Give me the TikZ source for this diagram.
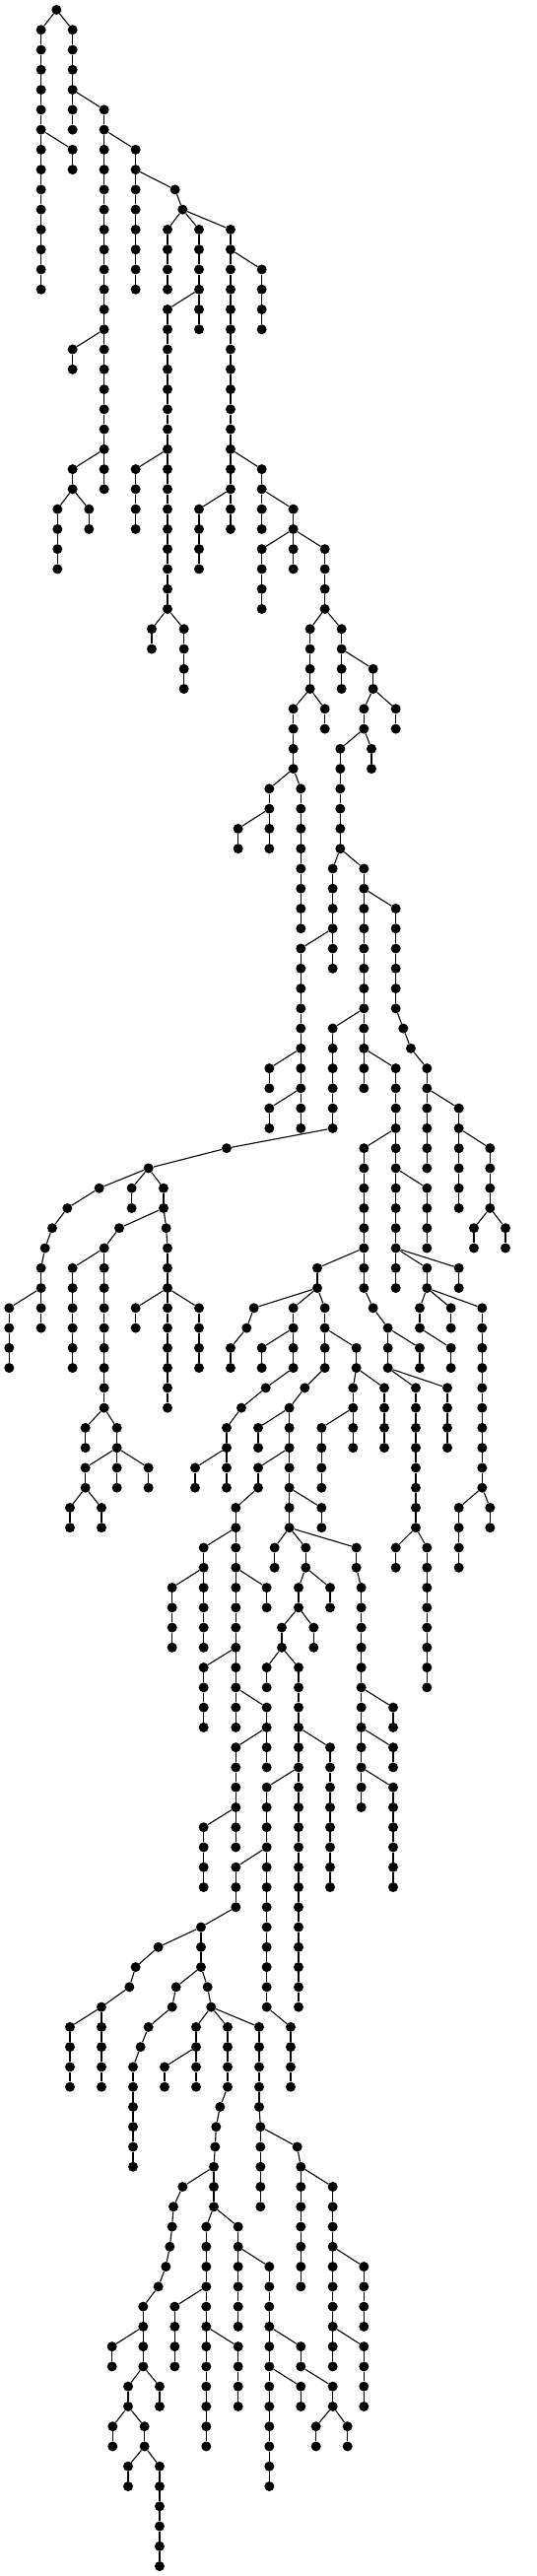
\documentclass[tikz,border=0pt]{standalone}
\tikzset{
  dot/.style={circle, fill=black, draw=none, inner sep=0pt, minimum size=10pt},
  edge/.style={line width=1.1pt, black}
}
\newcommand\chn[4]{%
  \foreach \q in {#3,...,#4}{%
    \node[dot] (#1-\q) at ({#2/3},{-10-20.266*\q}) {};
  }%
  \foreach \q in {#3,...,#4}{%
    \ifnum\q>#3\relax
      \pgfmathtruncatemacro\pq{\q-1}%
      \draw[edge] (#1-\pq) -- (#1-\q);
    \fi
  }%
}
\newcommand\lnk[2]{\draw[edge] (#1) -- (#2);}
\begin{document}
\begin{tikzpicture}[x=1pt,y=1pt]
\fill[white] (0,0) rectangle (544,-2614);
\useasboundingbox (0,0) rectangle (544,-2614);
\chn{R}{172}{0}{0}
\chn{A}{125}{1}{14} \lnk{R-0}{A-1}
\chn{B}{221}{1}{6} \lnk{R-0}{B-1}
\chn{C}{221}{7}{8} \lnk{A-6}{C-7}
\chn{D}{317}{5}{24} \lnk{B-4}{D-5}
\chn{E}{221}{17}{18} \lnk{D-16}{E-17}
\chn{F}{413}{7}{14} \lnk{D-6}{F-7}
\chn{G}{533}{9}{9} \lnk{F-8}{G-9}
\chn{H}{556}{10}{10} \lnk{G-9}{H-10}
\chn{I}{510}{11}{14} \lnk{H-10}{I-11}
\chn{J}{606}{11}{16} \lnk{H-10}{J-11}
\chn{N}{702}{11}{26} \lnk{H-10}{N-11}
\chn{K}{510}{15}{30} \lnk{J-14}{K-15}
\chn{L}{413}{23}{26} \lnk{K-22}{L-23}
\chn{Ma}{462}{31}{32} \lnk{K-30}{Ma-31}
\chn{Mb}{560}{31}{34} \lnk{K-30}{Mb-31}
\chn{O}{797}{13}{16} \lnk{N-12}{O-13}
\chn{P}{606}{25}{28} \lnk{N-24}{P-25}
\chn{Q}{797}{23}{26} \lnk{N-22}{Q-23}
\chn{S}{893}{25}{26} \lnk{Q-24}{S-25}
\chn{Ta}{797}{27}{30} \lnk{S-26}{Ta-27}
\chn{Tb}{893}{27}{28} \lnk{S-26}{Tb-27}
\chn{Tc}{989}{27}{30} \lnk{S-26}{Tc-27}
\chn{Ua}{944}{31}{34} \lnk{Tc-30}{Ua-31}
\chn{Ub}{1040}{31}{34} \lnk{Tc-30}{Ub-31}
\chn{V}{221}{23}{24} \lnk{D-22}{V-23}
\chn{Wa}{175}{25}{28} \lnk{V-24}{Wa-25}
\chn{Wb}{271}{25}{26} \lnk{V-24}{Wb-25}
\chn{Xa}{989}{35}{36} \lnk{Ua-34}{Xa-35}
\chn{Xb}{893}{35}{38} \lnk{Ua-34}{Xb-35}
\chn{Ya}{820}{39}{42} \lnk{Xb-38}{Ya-39}
\chn{Yb}{725}{41}{42} \lnk{Ya-40}{Yb-41}
\chn{Yc}{916}{39}{46} \lnk{Xb-38}{Yc-39}
\chn{Z}{1136}{33}{34} \lnk{Ub-32}{Z-33}
\chn{Za}{1205}{35}{36} \lnk{Z-34}{Za-35}
\chn{Zb}{1108}{35}{36} \lnk{Z-34}{Zb-35}
\chn{Zc}{1131}{37}{38} \lnk{Zb-36}{Zc-37}
\chn{Zd}{1036}{37}{42} \lnk{Zb-36}{Zd-37}
\chn{AA}{1013}{43}{48} \lnk{Zd-42}{AA-43}
\chn{AE}{1108}{43}{54} \lnk{Zd-42}{AE-43}
\chn{AB}{916}{47}{56} \lnk{AA-46}{AB-47}
\chn{AC}{820}{53}{54} \lnk{AB-52}{AC-53}
\chn{AD}{1013}{51}{56} \lnk{AE-50}{AD-51}
\chn{AF}{1205}{45}{50} \lnk{AE-44}{AF-45}
\chn{AG}{1228}{51}{51} \lnk{AF-50}{AG-51}
\chn{AH}{1251}{52}{52} \lnk{AG-51}{AH-52}
\chn{AI}{1300}{53}{58} \lnk{AH-52}{AI-53}
\chn{AJ}{1205}{53}{64} \lnk{AE-52}{AJ-53}
\chn{AK}{820}{55}{56} \lnk{AB-54}{AK-55}
\chn{BA}{690}{57}{57} \lnk{AD-56}{BA-57}
\chn{BB}{452}{58}{58} \lnk{BA-57}{BB-58}
\chn{BC}{302}{59}{59} \lnk{BB-58}{BC-59}
\chn{BD}{401}{59}{60} \lnk{BB-58}{BD-59}
\chn{BE}{498}{59}{60} \lnk{BB-58}{BE-59}
\chn{BF}{205}{60}{60} \lnk{BC-59}{BF-60}
\chn{BG}{159}{61}{61} \lnk{BF-60}{BG-61}
\chn{BH}{137}{62}{62} \lnk{BG-61}{BH-62}
\chn{BI}{125}{63}{66} \lnk{BH-62}{BI-63}
\chn{BJ}{28}{65}{68} \lnk{BI-64}{BJ-65}
\chn{BK}{363}{61}{61} \lnk{BE-60}{BK-61}
\chn{BL}{317}{62}{70} \lnk{BK-61}{BL-62}
\chn{BM}{221}{63}{68} \lnk{BL-62}{BM-63}
\chn{BN}{506}{61}{61} \lnk{BE-60}{BN-61}
\chn{BO}{510}{62}{70} \lnk{BN-61}{BO-62}
\chn{BP}{413}{65}{66} \lnk{BO-64}{BP-65}
\chn{BR}{606}{65}{68} \lnk{BO-64}{BR-65}
\chn{BS}{260}{71}{72} \lnk{BL-70}{BS-71}
\chn{BT}{356}{71}{72} \lnk{BL-70}{BT-71}
\chn{BU}{260}{73}{74} \lnk{BT-72}{BU-73}
\chn{BV}{356}{73}{74} \lnk{BT-72}{BV-73}
\chn{BW}{452}{73}{74} \lnk{BT-72}{BW-73}
\chn{BX}{213}{75}{76} \lnk{BU-74}{BX-75}
\chn{BY}{309}{75}{76} \lnk{BU-74}{BY-75}
\chn{CA}{1108}{57}{64} \lnk{AJ-56}{CA-57}
\chn{CB}{1300}{59}{62} \lnk{AJ-58}{CB-59}
\chn{CC}{1300}{63}{64} \lnk{AJ-62}{CC-63}
\chn{CD}{1397}{63}{64} \lnk{AJ-62}{CD-63}
\chn{CE}{1397}{55}{60} \lnk{AI-54}{CE-55}
\chn{CF}{1492}{57}{60} \lnk{CE-56}{CF-57}
\chn{CG}{1443}{61}{62} \lnk{CF-60}{CG-61}
\chn{CH}{1539}{61}{62} \lnk{CF-60}{CH-61}
\chn{CI}{966}{63}{64} \lnk{CA-62}{CI-63}
\chn{CJ}{773}{65}{65} \lnk{CI-64}{CJ-65}
\chn{CK}{751}{66}{66} \lnk{CJ-65}{CK-66}
\chn{CL}{702}{67}{68} \lnk{CK-66}{CL-67}
\chn{CM}{893}{65}{68} \lnk{CI-64}{CM-65}
\chn{CN}{797}{67}{68} \lnk{CM-66}{CN-67}
\chn{CO}{809}{69}{69} \lnk{CM-68}{CO-69}
\chn{CP}{735}{70}{70} \lnk{CO-69}{CP-70}
\chn{CQ}{690}{71}{74} \lnk{CP-70}{CQ-71}
\chn{CR}{594}{73}{74} \lnk{CQ-72}{CR-73}
\chn{CS}{989}{65}{68} \lnk{CI-64}{CS-65}
\chn{CT}{1085}{67}{68} \lnk{CS-66}{CT-67}
\chn{CU}{928}{69}{69} \lnk{CS-68}{CU-69}
\chn{CV}{881}{70}{76} \lnk{CU-69}{CV-70}
\chn{CW}{786}{71}{72} \lnk{CV-70}{CW-71}
\chn{CX}{786}{73}{74} \lnk{CV-72}{CX-73}
\chn{CY}{718}{75}{86} \lnk{CX-74}{CY-75}
\chn{CZ}{979}{75}{76} \lnk{CV-74}{CZ-75}
\chn{DA}{1075}{69}{72} \lnk{CT-68}{DA-69}
\chn{DB}{979}{71}{74} \lnk{DA-70}{DB-71}
\chn{DC}{1170}{69}{72} \lnk{CT-68}{DC-69}
\chn{DD}{1136}{65}{65} \lnk{CA-64}{DD-65}
\chn{DE}{1181}{66}{68} \lnk{DD-65}{DE-66}
\chn{DF}{1278}{67}{68} \lnk{DE-66}{DF-67}
\chn{DG}{1266}{69}{76} \lnk{DE-68}{DG-69}
\chn{DH}{1362}{69}{72} \lnk{DE-68}{DH-69}
\chn{DI}{1278}{65}{66} \lnk{CC-64}{DI-65}
\chn{DJ}{1373}{65}{66} \lnk{CC-64}{DJ-65}
\chn{DK}{1468}{65}{74} \lnk{CC-64}{DK-65}
\chn{DL}{1373}{67}{68} \lnk{DI-66}{DL-67}
\chn{DM}{1397}{75}{78} \lnk{DK-74}{DM-75}
\chn{DN}{1492}{75}{76} \lnk{DK-74}{DN-75}
\chn{DO}{620}{77}{82} \lnk{CY-76}{DO-77}
\chn{DP}{524}{79}{82} \lnk{DO-78}{DP-79}
\chn{DQ}{812}{79}{80} \lnk{CY-78}{DQ-79}
\chn{DR}{620}{83}{86} \lnk{CY-82}{DR-83}
\chn{DS}{812}{85}{88} \lnk{CY-84}{DS-85}
\chn{DT}{718}{87}{92} \lnk{DS-86}{DT-87}
\chn{DU}{620}{91}{94} \lnk{DT-90}{DU-91}
\chn{DV}{836}{77}{78} \lnk{CV-76}{DV-77}
\chn{DW}{931}{77}{78} \lnk{CV-76}{DW-77}
\chn{DX}{1085}{77}{78} \lnk{CV-76}{DX-77}
\chn{DY}{1005}{79}{80} \lnk{DW-78}{DY-79}
\chn{DZ}{909}{79}{80} \lnk{DW-78}{DZ-79}
\chn{EA}{955}{81}{82} \lnk{DZ-80}{EA-81}
\chn{EB}{858}{81}{82} \lnk{DZ-80}{EB-81}
\chn{EC}{812}{83}{84} \lnk{EB-82}{EC-83}
\chn{ED}{909}{83}{100} \lnk{EB-82}{ED-83}
\chn{EE}{1005}{87}{94} \lnk{ED-86}{EE-87}
\chn{EF}{812}{89}{100} \lnk{ED-88}{EF-89}
\chn{EG}{718}{93}{95} \lnk{EF-92}{EG-93}
\chn{EH}{612}{96}{98} \lnk{EG-95}{EH-96}
\chn{EI}{885}{101}{104} \lnk{EF-100}{EI-101}
\chn{EJ}{1100}{79}{90} \lnk{DX-78}{EJ-79}
\chn{EK}{1197}{85}{86} \lnk{EJ-84}{EK-85}
\chn{EL}{1197}{87}{88} \lnk{EJ-86}{EL-87}
\chn{EM}{1197}{89}{94} \lnk{EJ-88}{EM-89}
\chn{EN}{1205}{77}{78} \lnk{DG-76}{EN-77}
\chn{EO}{1300}{77}{84} \lnk{DG-76}{EO-77}
\chn{FA}{482}{97}{97} \lnk{EH-96}{FA-97}
\chn{FB}{413}{98}{98} \lnk{FA-97}{FB-98}
\chn{FC}{394}{99}{99} \lnk{FB-98}{FC-99}
\chn{FD}{309}{100}{104} \lnk{FC-99}{FD-100}
\chn{FE}{213}{101}{104} \lnk{FD-100}{FE-101}
\chn{FF}{536}{99}{99} \lnk{EH-98}{FF-99}
\chn{FG}{524}{100}{100} \lnk{FF-99}{FG-100}
\chn{FH}{452}{101}{101} \lnk{FG-100}{FH-101}
\chn{FI}{428}{102}{102} \lnk{FH-101}{FI-102}
\chn{FJ}{405}{103}{108} \lnk{FI-102}{FJ-103}
\chn{FK}{632}{99}{99} \lnk{EH-98}{FK-99}
\chn{FL}{643}{100}{100} \lnk{FK-99}{FL-100}
\chn{FM}{597}{101}{104} \lnk{FL-100}{FM-101}
\chn{FN}{501}{103}{104} \lnk{FM-102}{FN-103}
\chn{FO}{693}{101}{104} \lnk{FL-100}{FO-101}
\chn{FP}{670}{105}{105} \lnk{FO-104}{FP-105}
\chn{FQ}{658}{106}{106} \lnk{FP-105}{FQ-106}
\chn{FR}{655}{107}{107} \lnk{FQ-106}{FR-107}
\chn{FS}{651}{108}{110} \lnk{FR-107}{FS-108}
\chn{FT}{789}{101}{105} \lnk{FL-100}{FT-101}
\chn{FU}{793}{106}{110} \lnk{FT-105}{FU-106}
\chn{FV}{905}{107}{107} \lnk{FU-106}{FV-107}
\chn{FW}{916}{108}{114} \lnk{FV-107}{FW-108}
\chn{FX}{1013}{109}{118} \lnk{FW-108}{FX-109}
\chn{FY}{1108}{113}{116} \lnk{FX-112}{FY-113}
\chn{FZ}{1108}{117}{120} \lnk{FX-116}{FZ-117}
\chn{GA}{556}{109}{109} \lnk{FS-108}{GA-109}
\chn{GB}{528}{110}{110} \lnk{GA-109}{GB-110}
\chn{GC}{524}{111}{111} \lnk{GB-110}{GC-111}
\chn{GD}{517}{112}{112} \lnk{GC-111}{GD-112}
\chn{GE}{505}{113}{113} \lnk{GD-112}{GE-113}
\chn{GF}{482}{114}{114} \lnk{GE-113}{GF-114}
\chn{GG}{436}{115}{118} \lnk{GF-114}{GG-115}
\chn{GH}{341}{117}{118} \lnk{GG-116}{GH-117}
\chn{GI}{390}{119}{120} \lnk{GG-118}{GI-119}
\chn{GJ}{486}{119}{120} \lnk{GG-118}{GJ-119}
\chn{GK}{343}{121}{122} \lnk{GI-120}{GK-121}
\chn{GL}{440}{121}{122} \lnk{GI-120}{GL-121}
\chn{GM}{390}{123}{124} \lnk{GL-122}{GM-123}
\chn{GN}{486}{123}{128} \lnk{GL-122}{GN-123}
\chn{GO}{628}{111}{122} \lnk{FS-110}{GO-111}
\chn{GP}{532}{115}{118} \lnk{GO-114}{GP-115}
\chn{GQ}{725}{117}{120} \lnk{GO-116}{GQ-117}
\chn{GR}{725}{111}{116} \lnk{FS-110}{GR-111}
\chn{GS}{820}{113}{124} \lnk{GR-112}{GS-113}
\chn{GT}{916}{117}{118} \lnk{GS-116}{GT-117}
\chn{GU}{916}{119}{120} \lnk{GS-118}{GU-119}
\chn{GV}{1013}{119}{120} \lnk{GT-118}{GV-119}
\chn{GW}{962}{121}{122} \lnk{GV-120}{GW-121}
\chn{GX}{1058}{121}{122} \lnk{GV-120}{GX-121}
\end{tikzpicture}
\end{document}
